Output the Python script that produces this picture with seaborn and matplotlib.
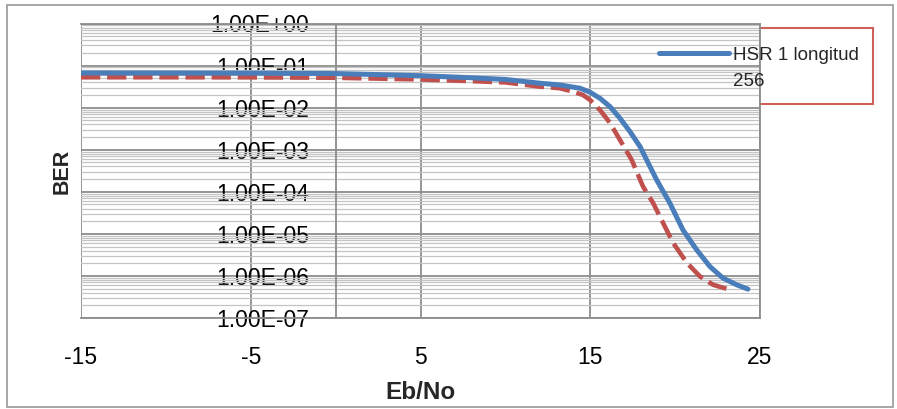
import matplotlib
matplotlib.use("Agg")
import matplotlib.pyplot as plt
import matplotlib.ticker as mticker
from matplotlib.patches import Rectangle
from matplotlib.legend_handler import HandlerLine2D
import seaborn as sns
import pandas as pd

# ---- data ----
ebno_blue = [-15, -10, -5, 0, 5, 8, 10, 12.04, 13.22, 14.40, 14.99, 15.57, 16.16, 16.75,
             17.34, 17.93, 18.52, 18.91, 19.69, 20.46, 21.27, 22.05, 22.82, 23.63, 24.29]
ber_blue = [0.0667, 0.0664, 0.0661, 0.0646, 0.0575, 0.0513, 0.0468, 0.0380, 0.0346, 0.0289,
            0.0232, 0.0167, 0.0106, 0.00560, 0.00269, 0.00119, 3.97e-4, 1.92e-4, 5.36e-5,
            1.24e-5, 4.17e-6, 1.67e-6, 8.87e-7, 6.15e-7, 4.85e-7]
ebno_red = [-15, -10, -5, 0, 5, 8, 10, 12.04, 13.22, 13.98, 14.57, 14.99, 15.57, 16.16,
            16.75, 17.44, 18.11, 18.70, 19.29, 19.88, 20.69, 21.47, 22.24, 23.24]
ber_red = [0.0527, 0.0527, 0.0525, 0.0513, 0.0468, 0.0427, 0.0398, 0.0316, 0.0289, 0.0240,
           0.0200, 0.0152, 0.00881, 0.00434, 0.00171, 5.73e-4, 1.33e-4, 5.45e-5, 1.82e-5,
           6.11e-6, 2.05e-6, 9.68e-7, 6.15e-7, 4.68e-7]
legend_label = "HSR 1 longitud\n256"
x_ticks = [-15, -5, 5, 15, 25]
y_ticks = [1e-7, 1e-6, 1e-5, 1e-4, 1e-3, 1e-2, 1e-1, 1e0]
x_label = "Eb/No"
y_label = "BER"

sns.set_style("white")
plt.rcParams["font.family"] = ["Liberation Sans", "DejaVu Sans"]

BLUE = "#4A7EBB"
RED = "#C0504D"
GRID_MAJ = "#8C8C8C"
GRID_MIN = "#C4C4C4"

fig = plt.figure(figsize=(8.97, 4.09), dpi=100)
ax = fig.add_axes([81 / 897, 1 - 318 / 409, (760 - 81) / 897, (318 - 23.5) / 409])

df_blue = pd.DataFrame({"x": ebno_blue, "y": ber_blue})
df_red = pd.DataFrame({"x": ebno_red, "y": ber_red})

sns.lineplot(data=df_red, x="x", y="y", ax=ax, color=RED, lw=3.3, sort=False,
             estimator=None, zorder=3)
red_line = ax.lines[-1]
red_line.set_dashes([4.2, 1.5])
red_line.set_solid_joinstyle("round")
sns.lineplot(data=df_blue, x="x", y="y", ax=ax, color=BLUE, lw=3.6, sort=False,
             estimator=None, zorder=4, label=legend_label)
blue_line = ax.lines[-1]
blue_line.set_solid_capstyle("round")
blue_line.set_solid_joinstyle("round")

ax.set_yscale("log")
ax.set_ylim(1e-7, 1e0)
ax.set_xlim(-15, 25)
ax.set_xticks(x_ticks)
ax.set_xticklabels([str(v) for v in x_ticks])
ax.set_yticks(y_ticks)
ax.yaxis.set_major_formatter(mticker.FuncFormatter(lambda v, p: f"{v:.2E}"))
ax.yaxis.set_minor_locator(mticker.LogLocator(base=10, subs=range(2, 10), numticks=50))
ax.yaxis.set_minor_formatter(mticker.NullFormatter())

ax.grid(which="major", axis="both", color=GRID_MAJ, lw=1.3, zorder=0)
ax.grid(which="minor", axis="y", color=GRID_MIN, lw=0.9, zorder=0)
ax.set_axisbelow(True)

ax.spines["left"].set_position(("data", 0))
for s in ["left", "right", "top", "bottom"]:
    ax.spines[s].set_color(GRID_MAJ)
    ax.spines[s].set_linewidth(1.3)

ax.tick_params(axis="y", which="both", length=0, pad=19, labelsize=16.5, colors="black")
ax.tick_params(axis="x", which="both", length=0, pad=20.5, labelsize=16.5, colors="black")

ax.set_xlabel(x_label, fontsize=17.5, fontweight="bold", labelpad=8.5)
ax.set_ylabel("")
fig.text(62 / 897, 1 - 171 / 409, y_label, rotation=90, fontsize=15.5, fontweight="bold",
         ha="center", va="center")


class RaisedLineHandler(HandlerLine2D):
    """Legend line handle aligned with the first text line."""
    def create_artists(self, legend, orig_handle, xdescent, ydescent, width, height,
                       fontsize, trans):
        arts = super().create_artists(legend, orig_handle, xdescent, ydescent, width,
                                      height, fontsize, trans)
        for a in arts:
            yd = a.get_ydata()
            a.set_ydata([v + 0.82 * fontsize for v in yd])
            a.set_solid_capstyle("round")
        return arts


if ax.get_legend() is not None:
    ax.get_legend().remove()
leg = fig.legend(handles=[blue_line], labels=[legend_label], loc="upper left",
                 bbox_to_anchor=(650 / 897, 1 - 38 / 409), frameon=False, fontsize=13.5,
                 handlelength=3.7, handletextpad=0.25, borderpad=0,
                 handler_map={blue_line: RaisedLineHandler()})
for t in leg.get_texts():
    t.set_linespacing(1.65)
fig.patches.append(Rectangle((639 / 897, 1 - 104 / 409), (873 - 639) / 897, (104 - 28) / 409,
                             transform=fig.transFigure, fill=True, facecolor="white",
                             edgecolor="#D0605C", lw=1.5, zorder=-1))
fig.patches.append(Rectangle((7 / 897, 1 - 407 / 409), (893 - 7) / 897, (407 - 5) / 409,
                             transform=fig.transFigure, fill=False, edgecolor="#A0A0A0", lw=1.3))

fig.savefig("out.png", dpi=100)
